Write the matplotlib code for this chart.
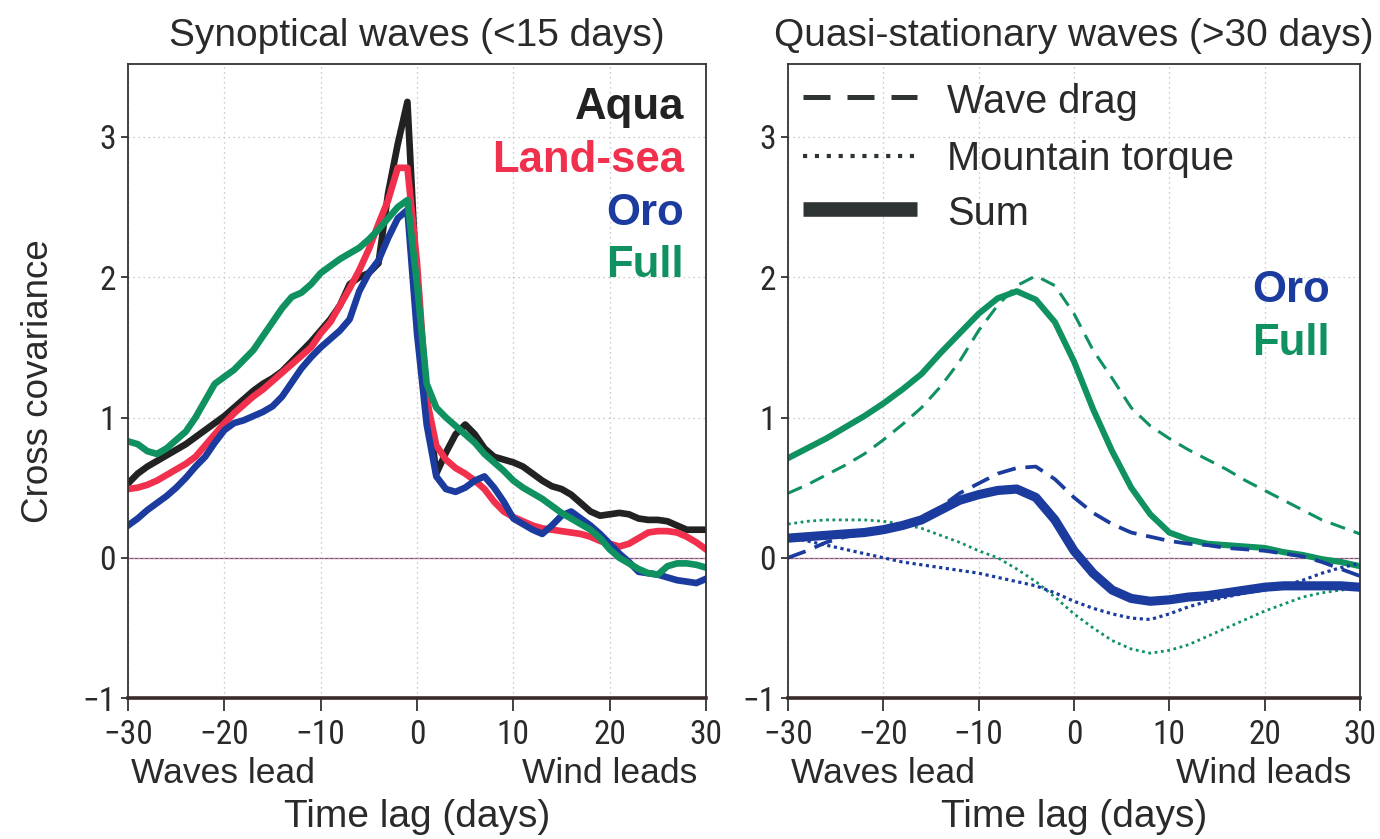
import numpy as np
import matplotlib
matplotlib.use("Agg")
import matplotlib.pyplot as plt
from matplotlib import font_manager as fm

# left panel: synoptical waves, lag in days
lag_syn = list(range(-30, 31))
aqua = [0.53, 0.60, 0.65, 0.69, 0.73, 0.77, 0.81, 0.86, 0.91, 0.96,
        1.01, 1.07, 1.13, 1.19, 1.24, 1.28, 1.33, 1.40, 1.47, 1.54,
        1.62, 1.70, 1.80, 1.95, 2.00, 2.03, 2.10, 2.60, 2.95, 3.25,
        1.90, 1.15, 0.60, 0.75, 0.88, 0.95, 0.88, 0.78, 0.72, 0.70,
        0.68, 0.65, 0.60, 0.55, 0.51, 0.49, 0.45, 0.39, 0.33, 0.30,
        0.31, 0.32, 0.31, 0.28, 0.27, 0.27, 0.26, 0.23, 0.20, 0.20, 0.20]
land_sea = [0.49, 0.50, 0.52, 0.55, 0.59, 0.63, 0.67, 0.72, 0.80, 0.88,
            0.96, 1.03, 1.09, 1.15, 1.20, 1.26, 1.32, 1.38, 1.44, 1.50,
            1.60, 1.68, 1.80, 1.92, 2.05, 2.20, 2.38, 2.55, 2.78, 2.78,
            2.10, 1.13, 0.80, 0.70, 0.64, 0.60, 0.55, 0.49, 0.40, 0.33,
            0.29, 0.26, 0.23, 0.21, 0.20, 0.19, 0.18, 0.17, 0.15, 0.12,
            0.10, 0.08, 0.10, 0.14, 0.18, 0.19, 0.19, 0.18, 0.15, 0.11, 0.06]
oro = [0.23, 0.28, 0.34, 0.39, 0.44, 0.50, 0.57, 0.65, 0.72, 0.82,
       0.91, 0.96, 0.98, 1.01, 1.04, 1.08, 1.15, 1.25, 1.35, 1.43,
       1.50, 1.56, 1.62, 1.70, 1.90, 2.03, 2.12, 2.28, 2.42, 2.48,
       1.60, 0.95, 0.58, 0.49, 0.47, 0.50, 0.55, 0.58, 0.50, 0.40,
       0.28, 0.24, 0.20, 0.17, 0.23, 0.30, 0.33, 0.28, 0.23, 0.17,
       0.10, 0.03, -0.03, -0.10, -0.11, -0.12, -0.14, -0.16, -0.17, -0.18, -0.15]
full = [0.83, 0.81, 0.76, 0.74, 0.78, 0.84, 0.90, 1.00, 1.12, 1.24,
        1.29, 1.34, 1.41, 1.48, 1.58, 1.68, 1.78, 1.86, 1.89, 1.95,
        2.03, 2.08, 2.13, 2.17, 2.21, 2.27, 2.34, 2.42, 2.50, 2.55,
        1.95, 1.24, 1.07, 1.00, 0.94, 0.88, 0.82, 0.74, 0.68, 0.62,
        0.55, 0.50, 0.46, 0.42, 0.37, 0.32, 0.28, 0.24, 0.20, 0.14,
        0.06, 0.00, -0.04, -0.08, -0.11, -0.12, -0.06, -0.04, -0.04, -0.05, -0.07]

# right panel: quasi-stationary waves
lag_qs = list(range(-30, 31, 2))
full_sum = [0.71, 0.78, 0.85, 0.93, 1.01, 1.10, 1.20, 1.31, 1.46, 1.60, 1.74,
            1.85, 1.90, 1.84, 1.68, 1.40, 1.06, 0.76, 0.50, 0.31, 0.18,
            0.13, 0.10, 0.09, 0.08, 0.07, 0.04, 0.02, -0.01, -0.03, -0.06]
full_drag = [0.46, 0.52, 0.59, 0.66, 0.74, 0.84, 0.95, 1.07, 1.22, 1.40, 1.62,
             1.80, 1.94, 2.01, 1.94, 1.74, 1.48, 1.28, 1.07, 0.94, 0.85,
             0.77, 0.70, 0.63, 0.55, 0.48, 0.41, 0.34, 0.27, 0.22, 0.17]
full_torque = [0.24, 0.26, 0.27, 0.27, 0.27, 0.26, 0.24, 0.21, 0.16, 0.11, 0.05,
               0.00, -0.08, -0.17, -0.28, -0.40, -0.50, -0.59, -0.65, -0.68, -0.66,
               -0.62, -0.56, -0.50, -0.44, -0.38, -0.33, -0.28, -0.25, -0.23, -0.22]
oro_sum = [0.14, 0.15, 0.16, 0.17, 0.18, 0.20, 0.23, 0.27, 0.34, 0.41, 0.45,
           0.48, 0.49, 0.43, 0.27, 0.05, -0.11, -0.23, -0.29, -0.31, -0.30,
           -0.28, -0.27, -0.25, -0.23, -0.21, -0.20, -0.20, -0.20, -0.20, -0.21]
oro_drag = [0.00, 0.05, 0.11, 0.15, 0.17, 0.20, 0.24, 0.29, 0.36, 0.46, 0.53,
            0.60, 0.64, 0.65, 0.56, 0.43, 0.32, 0.24, 0.18, 0.15, 0.12,
            0.10, 0.09, 0.07, 0.06, 0.05, 0.03, 0.01, -0.03, -0.08, -0.13]
oro_torque = [0.15, 0.12, 0.09, 0.06, 0.03, 0.00, -0.03, -0.05, -0.07, -0.09, -0.11,
              -0.14, -0.17, -0.20, -0.25, -0.31, -0.36, -0.40, -0.43, -0.44, -0.40,
              -0.35, -0.31, -0.28, -0.25, -0.23, -0.20, -0.16, -0.11, -0.07, -0.04]

xticks = [-30, -20, -10, 0, 10, 20, 30]
yticks = [-1, 0, 1, 2, 3]

BLACK = "#222222"
RED = "#f0304c"
BLUE = "#1b3c9e"
GREEN = "#0f9160"
TXT = "#2a2a2a"

plt.rcParams['font.family'] = ['Liberation Sans', 'DejaVu Sans']

# tick numbers in the original are a narrow face; use one if installed
names = {f.name for f in fm.fontManager.ttflist}
if 'Roboto Condensed' in names:
    narrow = dict(family='Roboto Condensed')
    tk = 24
elif 'Liberation Sans Narrow' in names:
    narrow = dict(family='Liberation Sans Narrow')
    tk = 25
else:
    narrow = dict(family='Liberation Sans')
    tk = 20

fig = plt.figure(figsize=(13.8, 8.39), dpi=100)
ax1 = fig.add_axes([0.0928, 0.168, 0.4188, 0.7557])
ax2 = fig.add_axes([0.571, 0.168, 0.4145, 0.7557])


def style(ax, title):
    ax.set_xlim(-30, 30)
    ax.set_ylim(-1, 3.52)
    ax.set_xticks(xticks)
    ax.set_yticks(yticks)
    ax.set_xticklabels([str(t).replace('-', '\u2212') for t in xticks], fontsize=tk, color=TXT, **narrow)
    ax.set_yticklabels([str(t).replace('-', '\u2212') for t in yticks], fontsize=tk, color=TXT, **narrow)
    ax.tick_params(axis='x', direction='out', length=9, width=1.3, color='#333333', pad=6)
    ax.tick_params(axis='y', direction='out', length=5, width=1.3, color='#333333', pad=4)
    ax.grid(True, linestyle=(0, (1, 3)), color='#bbbbbb', linewidth=0.9)
    ax.axhline(0, color='#8a4a7a', linewidth=0.9, zorder=1)
    for s in ax.spines.values():
        s.set_linewidth(1.3)
        s.set_color('#333333')
    ax.spines['bottom'].set_linewidth(2.6)
    ax.spines['bottom'].set_color('#3a2a2a')
    ax.set_title(title, fontsize=28, pad=13, color=TXT)
    ax.text(0.005, -0.134, "Waves lead", transform=ax.transAxes,
            fontsize=25.5, ha='left', va='baseline', color=TXT)
    ax.text(0.985, -0.134, "Wind leads", transform=ax.transAxes,
            fontsize=25.5, ha='right', va='baseline', color=TXT)
    ax.text(0.5, -0.2035, "Time lag (days)", transform=ax.transAxes,
            fontsize=28, ha='center', va='baseline', color=TXT)


style(ax1, "Synoptical waves (<15 days)")
style(ax2, "Quasi-stationary waves (>30 days)")

lw = 4.8
ax1.plot(lag_syn, aqua, color=BLACK, lw=lw, solid_joinstyle='round')
ax1.plot(lag_syn, land_sea, color=RED, lw=lw, solid_joinstyle='round')
ax1.plot(lag_syn, oro, color=BLUE, lw=lw, solid_joinstyle='round')
ax1.plot(lag_syn, full, color=GREEN, lw=lw, solid_joinstyle='round')

labels = [("Aqua", BLACK), ("Land-sea", RED), ("Oro", BLUE), ("Full", GREEN)]
label_y = [0.913, 0.830, 0.746, 0.664]
for (name, c), yy in zip(labels, label_y):
    ax1.text(0.962, yy, name, transform=ax1.transAxes, ha='right',
             va='baseline', fontsize=31.5, fontweight='bold', color=c)

ax1.set_ylabel("Cross covariance", fontsize=26.5, labelpad=19, color=TXT)

ax2.plot(lag_qs, full_drag, color=GREEN, lw=2.2, ls=(0, (5, 3)))
ax2.plot(lag_qs, full_torque, color=GREEN, lw=2.0, ls=(0, (1, 1.3)))
ax2.plot(lag_qs, full_sum, color=GREEN, lw=4.4)
ax2.plot(lag_qs, oro_drag, color=BLUE, lw=2.7, ls=(0, (5, 2.6)))
ax2.plot(lag_qs, oro_torque, color=BLUE, lw=2.3, ls=(0, (1, 1.1)))
ax2.plot(lag_qs, oro_sum, color=BLUE, lw=6.6)

for (name, c), yy in zip([("Oro", BLUE), ("Full", GREEN)], [0.6246, 0.541]):
    ax2.text(0.9476, yy, name, transform=ax2.transAxes, ha='right',
             va='baseline', fontsize=31.5, fontweight='bold', color=c)

# line-style key drawn in axes fraction
key_names = ["Wave drag", "Mountain torque", "Sum"]
key_styles = [(0, (5.4, 3.4)), (0, (1, 1.85)), '-']
key_widths = [3.6, 3.0, 10.5]
key_line_y = [0.948, 0.855, 0.771]
key_text_y = [0.9227, 0.8328, 0.746]
for name, ls, w, yl, yt in zip(key_names, key_styles, key_widths, key_line_y, key_text_y):
    ax2.plot([0.026, 0.225], [yl, yl], transform=ax2.transAxes, color='#2e3434',
             lw=w, ls=ls, solid_capstyle='butt')
    ax2.text(0.278, yt, name, transform=ax2.transAxes, ha='left', va='baseline',
             fontsize=28.6, color=TXT)

fig.savefig("out.png", dpi=100)
